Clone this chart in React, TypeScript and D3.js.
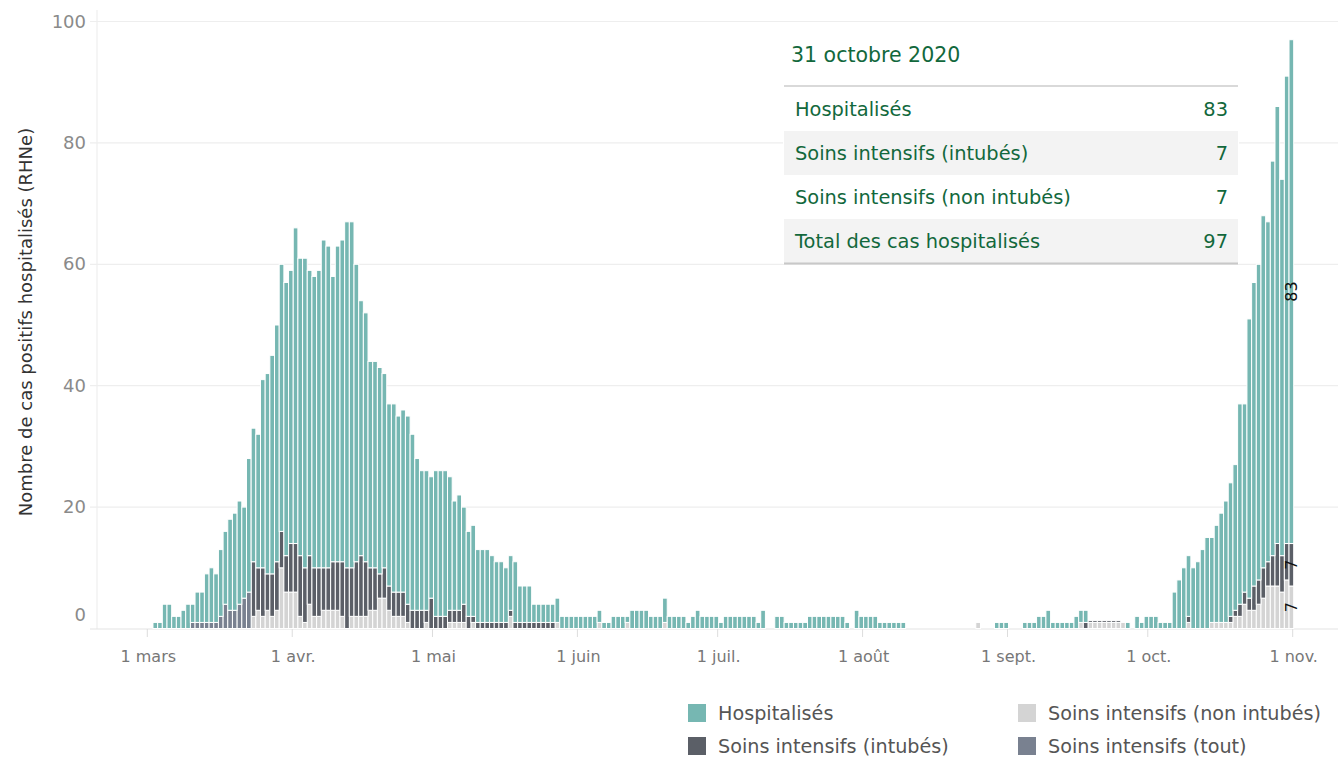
import React, { useRef, useEffect } from 'react';
import * as d3 from 'd3';

// one value per day, 1 March 2020 -> 31 October 2020
const hospitalises = [
  0, 1, 1, 4, 4, 2, 2, 3, 4, 3,
  5, 5, 8, 9, 8, 11, 12, 15, 16, 17,
  15, 22, 22, 22, 31, 33, 36, 39, 44, 45,
  45, 52, 49, 51, 47, 48, 49, 54, 53, 47,
  52, 53, 57, 57, 49, 42, 41, 34, 34, 34,
  32, 30, 31, 29, 30, 31, 29, 25, 23, 23,
  20, 24, 24, 24, 22, 18, 19, 16, 14, 15,
  12, 12, 12, 11, 10, 10, 9, 9, 10, 6,
  6, 6, 3, 3, 3, 3, 3, 4, 2, 2,
  2, 2, 2, 2, 2, 2, 2, 1, 1, 2,
  2, 2, 1, 3, 3, 3, 3, 2, 2, 2,
  4, 2, 2, 2, 2, 1, 2, 3, 2, 2,
  2, 2, 1, 2, 2, 2, 2, 2, 2, 2,
  1, 3, 0, 0, 2, 2, 1, 1, 1, 1,
  1, 2, 2, 2, 2, 2, 2, 2, 2, 1,
  0, 3, 2, 2, 2, 2, 1, 1, 1, 1,
  1, 1, 0, 0, 0, 0, 0, 0, 0, 0,
  0, 0, 0, 0, 0, 0, 0, 0, 0, 0,
  0, 1, 1, 1, 0, 0, 0, 1, 1, 1,
  2, 2, 3, 1, 1, 1, 1, 1, 2, 2,
  2, 0, 0, 0, 0, 0, 0, 0, 0, 1,
  0, 2, 1, 2, 2, 2, 1, 1, 1, 6,
  8, 10, 10, 10, 11, 13, 15, 14, 16, 18,
  20, 22, 24, 33, 31, 46, 50, 52, 58, 56,
  65, 72, 62, 77, 83,
];

const intubes = [
  0, 0, 0, 0, 0, 0, 0, 0, 0, 0,
  0, 0, 0, 0, 0, 0, 0, 0, 0, 0,
  0, 0, 9, 7, 8, 6, 7, 8, 6, 6,
  8, 8, 10, 9, 8, 8, 8, 7, 7, 8,
  8, 9, 10, 8, 9, 10, 9, 7, 7, 4,
  5, 4, 4, 4, 4, 3, 3, 3, 3, 2,
  5, 2, 2, 2, 2, 2, 2, 3, 2, 1,
  1, 1, 1, 1, 1, 1, 1, 1, 1, 1,
  1, 1, 1, 1, 1, 1, 1, 0, 0, 0,
  0, 0, 0, 0, 0, 0, 0, 0, 0, 0,
  0, 0, 0, 0, 0, 0, 0, 0, 0, 0,
  0, 0, 0, 0, 0, 0, 0, 0, 0, 0,
  0, 0, 0, 0, 0, 0, 0, 0, 0, 0,
  0, 0, 0, 0, 0, 0, 0, 0, 0, 0,
  0, 0, 0, 0, 0, 0, 0, 0, 0, 0,
  0, 0, 0, 0, 0, 0, 0, 0, 0, 0,
  0, 0, 0, 0, 0, 0, 0, 0, 0, 0,
  0, 0, 0, 0, 0, 0, 0, 0, 0, 0,
  0, 0, 0, 0, 0, 0, 0, 0, 0, 0,
  0, 0, 0, 0, 0, 0, 0, 0, 0, 0,
  1, 0.3, 0.3, 0.3, 0.3, 0.3, 0.3, 0.3, 0, 0,
  0, 0, 0, 0, 0, 0, 0, 0, 0, 0,
  0, 0, 1, 0, 0, 0, 0, 0, 0, 0,
  0, 1, 1, 2, 2, 2, 4, 4, 5, 4,
  5, 7, 6, 6, 7,
];

const nonIntubes = [
  0, 0, 0, 0, 0, 0, 0, 0, 0, 0,
  0, 0, 0, 0, 0, 0, 0, 0, 0, 0,
  0, 0, 2, 3, 2, 3, 2, 3, 10, 6,
  6, 6, 2, 1, 4, 2, 2, 3, 3, 3,
  3, 2, 0, 2, 2, 2, 2, 3, 3, 5,
  5, 3, 2, 2, 2, 1, 0, 0, 0, 1,
  0, 0, 0, 0, 1, 1, 1, 1, 0, 1,
  0, 0, 0, 0, 0, 0, 0, 2, 0, 0,
  0, 0, 0, 0, 0, 0, 0, 1, 0, 0,
  0, 0, 0, 0, 0, 0, 1, 0, 0, 0,
  0, 0, 1, 0, 0, 0, 0, 0, 0, 0,
  1, 0, 0, 0, 0, 0, 0, 0, 0, 0,
  0, 0, 0, 0, 0, 0, 0, 0, 0, 0,
  0, 0, 0, 0, 0, 0, 0, 0, 0, 0,
  0, 0, 0, 0, 0, 0, 0, 0, 0, 0,
  0, 0, 0, 0, 0, 0, 0, 0, 0, 0,
  0, 0, 0, 0, 0, 0, 0, 0, 0, 0,
  0, 0, 0, 0, 0, 0, 0, 1, 0, 0,
  0, 0, 0, 0, 0, 0, 0, 0, 0, 0,
  0, 0, 0, 0, 0, 0, 0, 0, 0, 1,
  0, 1, 1, 1, 1, 1, 1, 1, 1, 0,
  0, 0, 0, 0, 0, 0, 0, 0, 0, 0,
  0, 0, 1, 0, 0, 0, 0, 1, 1, 1,
  1, 1, 2, 2, 4, 3, 3, 4, 5, 7,
  7, 7, 6, 8, 7,
];

// before the split intubés / non intubés
const siTout = [
  0, 0, 0, 0, 0, 0, 0, 0, 0, 1,
  1, 1, 1, 1, 1, 2, 4, 3, 3, 4,
  5, 6,
];

const monthLabels = ['1 mars', '1 avr.', '1 mai', '1 juin', '1 juil.', '1 août', '1 sept.', '1 oct.', '1 nov.'];
const yTicks = [0, 20, 40, 60, 80, 100];

const tableTitle = '31 octobre 2020';
const tableRows = ['Hospitalisés', 'Soins intensifs (intubés)', 'Soins intensifs (non intubés)', 'Total des cas hospitalisés'];
const tableValues = [83, 7, 7, 97];

const legendItems = [
  { label: 'Hospitalisés', color: '#76b7b2' },
  { label: 'Soins intensifs (non intubés)', color: '#d4d4d4' },
  { label: 'Soins intensifs (intubés)', color: '#5b5f67' },
  { label: 'Soins intensifs (tout)', color: '#798190' },
];

const colors = {
  nonIntubes: '#d4d4d4',
  intubes: '#5b5f67',
  tout: '#798190',
  hospitalises: '#76b7b2',
};

const FONT = '"DejaVu Sans", "Noto Sans", sans-serif';
const GREEN = '#12683c';

const App = () => {
  const d3Container = useRef(null);

  useEffect(() => {
    if (!d3Container.current) return;
    d3.select(d3Container.current).selectAll('*').remove();

    const start = new Date(Date.UTC(2020, 2, 1));
    const rows = hospitalises.map((h, i) => ({
      date: d3.utcDay.offset(start, i),
      nonIntubes: nonIntubes[i] || 0,
      intubes: intubes[i] || 0,
      tout: siTout[i] || 0,
      hospitalises: h,
    }));

    const left = 97, right = 1338;
    const svg = d3.select(d3Container.current)
      .append('svg')
      .attr('width', 1340)
      .attr('height', 758)
      .style('position', 'absolute')
      .style('left', 0)
      .style('top', 0)
      .style('font-family', FONT);

    const x = d3.scaleUtc()
      .domain([start, new Date(Date.UTC(2020, 10, 1))])
      .range([147.3, 1292.7]);
    const y = d3.scaleLinear().domain([0, 100]).range([628.5, 21.5]);
    const step = x(d3.utcDay.offset(start, 1)) - x(start);

    // grid
    svg.append('g')
      .selectAll('line')
      .data(yTicks.filter(t => t > 0))
      .join('line')
      .attr('x1', 90).attr('x2', right)
      .attr('y1', d => y(d)).attr('y2', d => y(d))
      .attr('stroke', '#eeeeee').attr('stroke-width', 1.2);

    svg.append('line')
      .attr('x1', left).attr('x2', left).attr('y1', 10).attr('y2', 629)
      .attr('stroke', '#eeeeee').attr('stroke-width', 1.2);

    svg.append('line')
      .attr('x1', 90).attr('x2', right).attr('y1', y(0) + 0.5).attr('y2', y(0) + 0.5)
      .attr('stroke', '#e4e4e4').attr('stroke-width', 1.2);

    // y labels
    svg.append('g')
      .selectAll('text')
      .data(yTicks)
      .join('text')
      .attr('x', 86)
      .attr('y', d => (d === 0 ? 616 : y(d) + 1))
      .attr('text-anchor', 'end')
      .attr('dominant-baseline', 'middle')
      .attr('font-size', 18)
      .attr('fill', '#8a8a8a')
      .text(d => d);

    svg.append('text')
      .attr('transform', 'translate(32,322) rotate(-90)')
      .attr('text-anchor', 'middle')
      .attr('font-size', 18)
      .attr('fill', '#333')
      .text('Nombre de cas positifs hospitalisés (RHNe)');

    // x ticks
    const months = d3.utcMonth.range(start, new Date(Date.UTC(2020, 10, 2)));
    const xt = svg.append('g');
    xt.selectAll('line')
      .data(months)
      .join('line')
      .attr('x1', d => x(d)).attr('x2', d => x(d))
      .attr('y1', 629).attr('y2', 637)
      .attr('stroke', '#dddddd');
    xt.selectAll('text')
      .data(months)
      .join('text')
      .attr('x', d => x(d) + 1)
      .attr('y', 662)
      .attr('text-anchor', 'middle')
      .attr('font-size', 16)
      .attr('fill', '#777')
      .text((d, i) => monthLabels[i]);

    // stacked bars
    const keys = ['nonIntubes', 'intubes', 'tout', 'hospitalises'];
    const stacked = d3.stack().keys(keys)(rows);
    svg.append('g')
      .selectAll('g')
      .data(stacked)
      .join('g')
      .attr('fill', d => colors[d.key])
      .selectAll('rect')
      .data(d => d.filter(s => s[1] - s[0] > 0))
      .join('rect')
      .attr('x', d => x(d.data.date) + 1)
      .attr('width', step)
      .attr('y', d => y(d[1]))
      .attr('height', d => y(d[0]) - y(d[1]))
      .attr('stroke', '#fff')
      .attr('stroke-width', 1);

    // segment labels on the last day
    const last = stacked.map(s => s[s.length - 1]);
    const lastX = x(rows[rows.length - 1].date) + 1 + step / 2 + 1.5;
    svg.append('g')
      .selectAll('text')
      .data(last.filter(s => s[1] - s[0] > 0))
      .join('text')
      .attr('transform', d => `translate(${lastX},${y((d[0] + d[1]) / 2)}) rotate(-90)`)
      .attr('text-anchor', 'middle')
      .attr('dominant-baseline', 'middle')
      .attr('font-size', 16)
      .attr('fill', '#111')
      .text(d => d[1] - d[0]);

    // tooltip table
    const tb = svg.append('g');
    tb.append('rect').attr('x', 783).attr('y', 30).attr('width', 456).attr('height', 234).attr('fill', '#fff');
    tb.append('text')
      .attr('x', 791).attr('y', 56)
      .attr('dominant-baseline', 'middle')
      .attr('font-size', 20.5)
      .attr('fill', GREEN)
      .text(tableTitle);
    tb.append('line').attr('x1', 784).attr('x2', 1238).attr('y1', 86).attr('y2', 86)
      .attr('stroke', '#cccccc').attr('stroke-width', 1.5);
    const rowTop = [87, 131, 175, 219];
    tb.selectAll('rect.row')
      .data(tableRows)
      .join('rect')
      .attr('class', 'row')
      .attr('x', 784).attr('width', 454)
      .attr('y', (d, i) => rowTop[i]).attr('height', 44)
      .attr('fill', (d, i) => (i % 2 ? '#f3f3f3' : '#fff'));
    tb.selectAll('text.lab')
      .data(tableRows)
      .join('text')
      .attr('class', 'lab')
      .attr('x', 795).attr('y', (d, i) => rowTop[i] + 23)
      .attr('dominant-baseline', 'middle')
      .attr('font-size', 19.4)
      .attr('fill', GREEN)
      .text(d => d);
    tb.selectAll('text.val')
      .data(tableValues)
      .join('text')
      .attr('class', 'val')
      .attr('x', 1228).attr('y', (d, i) => rowTop[i] + 23)
      .attr('text-anchor', 'end')
      .attr('dominant-baseline', 'middle')
      .attr('font-size', 19.4)
      .attr('fill', GREEN)
      .text(d => d);
    tb.append('line').attr('x1', 784).attr('x2', 1238).attr('y1', 263.5).attr('y2', 263.5)
      .attr('stroke', '#c8c8c8').attr('stroke-width', 2);

    // legend
    const lg = svg.append('g')
      .selectAll('g')
      .data(legendItems)
      .join('g')
      .attr('transform', (d, i) => `translate(${i % 2 ? 1018 : 688},${i < 2 ? 704 : 737})`);
    lg.append('rect').attr('width', 18).attr('height', 18).attr('fill', d => d.color);
    lg.append('text')
      .attr('x', 30).attr('y', 10)
      .attr('dominant-baseline', 'middle')
      .attr('font-size', 19.2)
      .attr('fill', '#555')
      .text(d => d.label);
  }, []);

  return <div ref={d3Container} />;
};

export default App;
